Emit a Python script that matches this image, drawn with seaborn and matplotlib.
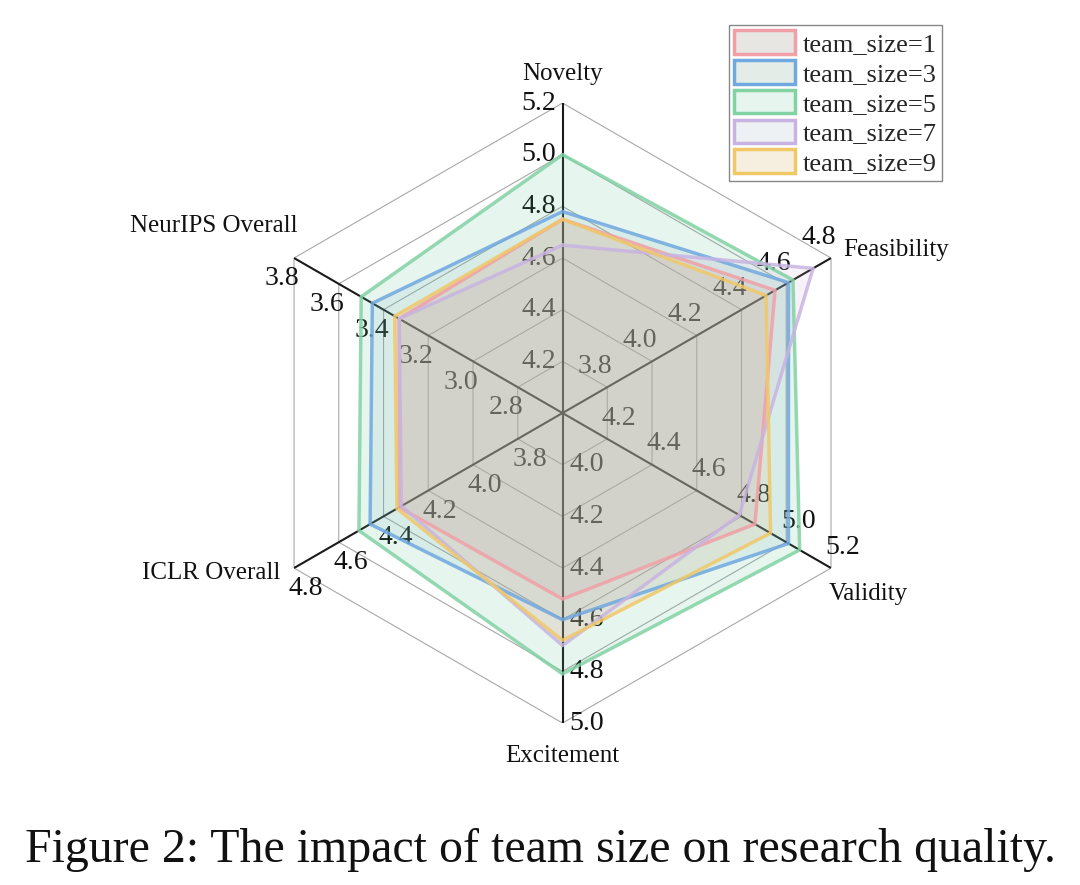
import numpy as np
import pandas as pd
import seaborn as sns
import matplotlib.pyplot as plt
from matplotlib.patches import Patch

sns.set_theme(style='white')
plt.rcParams['font.family'] = ['Liberation Serif', 'DejaVu Serif']

categories = ['Novelty', 'Feasibility', 'Validity', 'Excitement', 'ICLR Overall', 'NeurIPS Overall']
# value at the centre of each axis, rings are 0.2 apart
axis_base = [4.0, 3.6, 4.0, 3.8, 3.6, 2.6]
tick_labels = [
    ['4.2', '4.4', '4.6', '4.8', '5.0', '5.2'],
    ['3.8', '4.0', '4.2', '4.4', '4.6', '4.8'],
    ['4.2', '4.4', '4.6', '4.8', '5.0', '5.2'],
    ['4.0', '4.2', '4.4', '4.6', '4.8', '5.0'],
    ['3.8', '4.0', '4.2', '4.4', '4.6', '4.8'],
    ['2.8', '3.0', '3.2', '3.4', '3.6', '3.8'],
]

teams = ['team_size=1', 'team_size=3', 'team_size=5', 'team_size=7', 'team_size=9']
size_1 = [4.75, 4.55, 4.86, 4.52, 4.33, 3.33]
size_3 = [4.78, 4.61, 5.01, 4.60, 4.46, 3.45]
size_5 = [5.00, 4.63, 5.06, 4.81, 4.51, 3.50]
size_7 = [4.65, 4.72, 4.79, 4.70, 4.32, 3.33]
size_9 = [4.75, 4.51, 4.93, 4.68, 4.34, 3.35]
scores = [size_1, size_3, size_5, size_7, size_9]

edge_colors = ['#f0a0a6', '#70a8e0', '#82d2a4', '#c8b4e2', '#f0c868']
fill_colors = ['#d49a98', '#8db2cc', '#52bc8c', '#c4a8c8', '#ecae70']
legend_faces = ['#e8e6e2', '#e3ece6', '#e6f6ee', '#eef1f4', '#f6efe0']

step = 0.2
n_rings = 6
angles = np.deg2rad(np.arange(0, 360, 60))

rows = []
for team, vals in zip(teams, scores):
    r = [(v - b) / step for v, b in zip(vals, axis_base)]
    for k in list(range(len(categories))) + [0]:
        rows.append({'team': team, 'theta': angles[k], 'r': r[k]})
df = pd.DataFrame(rows)

fig = plt.figure(figsize=(10.8, 8.85), dpi=100)
ax = fig.add_axes([0.2338, 0.1830, 0.5741, 0.7006], projection='polar')
ax.set_theta_zero_location('N')
ax.set_theta_direction(-1)
ax.set_ylim(0, n_rings)
ax.grid(False)
ax.set_xticks([])
ax.set_yticks([])
ax.spines['polar'].set_visible(False)

# hexagon rings
closed = np.append(angles, angles[0])
for i in range(1, n_rings + 1):
    ax.plot(closed, [i] * len(closed), color='#a8a8a8', lw=0.8, zorder=1)

# spokes
for a in angles:
    ax.plot([a, a], [0, n_rings], color='#1a1a1a', lw=1.5, zorder=1.5)

# fills
for team, fc in zip(teams, fill_colors):
    sub = df[df.team == team]
    ax.fill(sub.theta, sub.r, color=fc, alpha=0.14, lw=0, zorder=3)

sns.lineplot(data=df, x='theta', y='r', hue='team', palette=edge_colors, sort=False,
             estimator=None, lw=2.5, alpha=0.85, legend=False, ax=ax, zorder=4)
ax.set_xlabel('')
ax.set_ylabel('')

# tick labels, offset sideways from each spoke
for k, a in enumerate(angles):
    screen = np.pi / 2 - a  # screen angle of the spoke
    off = screen + np.pi / 2
    dx, dy = 24 * np.cos(off), 24 * np.sin(off)
    for i, lab in enumerate(tick_labels[k]):
        ax.annotate(lab, xy=(a, i + 1), xytext=(dx, dy), textcoords='offset pixels',
                    ha='center', va='center', fontsize=20, color='#111111', zorder=2,
                    annotation_clip=False)

label_pos = [((0, 29), 'center'), ((12, 8), 'left'), ((-2, -26), 'left'),
             ((0, -33), 'center'), ((-14, -5), 'right'), ((4, 32), 'right')]
for k, a in enumerate(angles):
    (dx, dy), ha = label_pos[k]
    ax.annotate(categories[k], xy=(a, n_rings), xytext=(dx, dy), textcoords='offset pixels',
                ha=ha, va='center', fontsize=18, color='#111111', annotation_clip=False)

handles = [Patch(facecolor=f, edgecolor=e, lw=2.5) for f, e in zip(legend_faces, edge_colors)]
leg = fig.legend(handles, teams, loc='upper right', bbox_to_anchor=(0.8722, 0.9718),
                 bbox_transform=fig.transFigure, borderaxespad=0, fontsize=19,
                 handlelength=2.3, handleheight=1.0, labelspacing=0.15, handletextpad=0.3,
                 borderpad=0.2, fancybox=False, framealpha=1, edgecolor='#888888')
leg.get_frame().set_linewidth(1.0)

fig.text(0.5, 0.0395, 'Figure 2: The impact of team size on research quality.',
         ha='center', va='center', fontsize=34.5, color='#111111')

fig.savefig('out.png', dpi=100)
